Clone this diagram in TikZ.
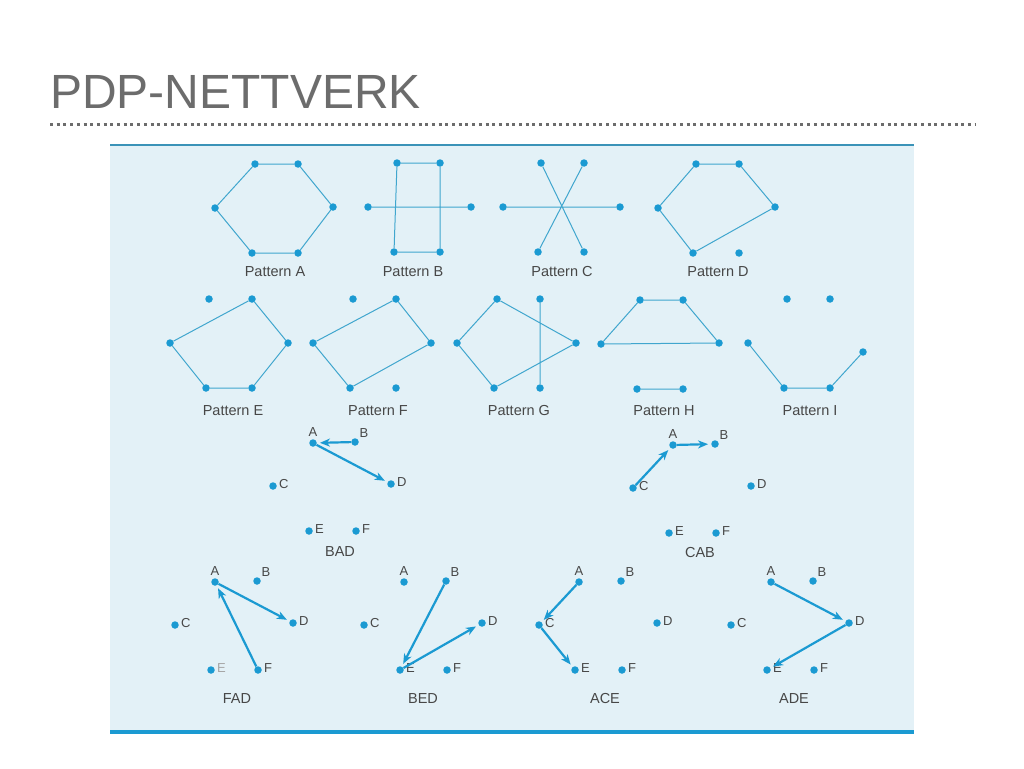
\documentclass[tikz,border=0pt]{standalone}
\usepackage{fontspec}
\setmainfont{Liberation Sans}
\usetikzlibrary{arrows.meta}
\usetikzlibrary{positioning}

\definecolor{panelbg}{HTML}{E3F1F7}
\definecolor{dotblue}{HTML}{1B9AD2}
\definecolor{lineblue}{HTML}{40A6CE}
\definecolor{rimblue}{HTML}{3B93B8}
\definecolor{titlegray}{HTML}{6C6C6C}
\definecolor{textgray}{HTML}{474747}

\begin{document}
\begin{tikzpicture}[x=1pt, y=-1pt,
    vertex/.style={circle, fill=dotblue, inner sep=0pt, minimum size=7.5pt},
    link/.style={draw=lineblue, line width=1pt},
    jump/.style={draw=dotblue, line width=2.2pt, -{Stealth[length=10pt, width=8pt, inset=3pt]}, shorten >=3pt},
    caption/.style={text=textgray, font=\fontsize{14.5}{17}\selectfont, inner sep=0pt, anchor=base},
    letter/.style={text=textgray, font=\fontsize{13}{15}\selectfont, inner sep=1pt, label distance=1pt}]

      \useasboundingbox (0,0) rectangle (1024,768);
      \fill[white] (0,0) rectangle (1024,768);

      % Title and dotted rule
      \node[anchor=base west, inner sep=0pt, text=titlegray, font=\fontsize{48}{56}\selectfont] (title) at (50,108) {PDP-NETTVERK};
      \coordinate (rulel) at (50,124);
      \coordinate (ruler) at (975,124);
      \draw[titlegray, line width=3pt, dash pattern=on 3pt off 3.7pt] (rulel) -- (ruler);

      % Light blue panel
      \fill[panelbg] (110,145) rectangle (914,732);
      \draw[rimblue, line width=1.8pt] (110,145) -- (914,145);
      \draw[dotblue, line width=3.5pt] (110,732) -- (914,732);

      % Patterns: name/top left dot/left dot dx/right dot dx,dy/caption point/letter
      \foreach \p/\x/\y/\cx/\dx/\dy/\tx/\ty/\txt in {pa/255/164/-40/78/43/275/276/A,
          pb/397/163/-29/74/44/413/276/B, pc/541/163/-38/79/44/562/276/C,
          pd/696/164/-38/79/43/718/276/D, pe/209/299/-39/79/44/233/415/E,
          pf/353/299/-40/78/44/378/415/F, pg/497/299/-40/79/44/519/415/G,
          ph/640/300/-39/79/43/664/415/H, pi/787/299/-39/76/53/810/415/I} {
        \node[vertex] (\p A) at (\x,\y) {};
        \node[vertex] (\p B) at (\x+43,\y) {};
        \node[vertex] (\p C) at (\x+\cx,\y+44) {};
        \node[vertex] (\p D) at (\x+\dx,\y+\dy) {};
        \node[vertex] (\p E) at (\x-3,\y+89) {};
        \node[vertex] (\p F) at (\x+43,\y+89) {};
        \node[caption] (\p cap) at (\tx,\ty) {Pattern \txt};
      }

      % Pattern edges
      \draw[link] (paA) -- (paB) -- (paD) -- (paF) -- (paE) -- (paC) -- (paA);
      \draw[link] (pbA) -- (pbB) -- (pbF) -- (pbE) -- (pbA) (pbC) -- (pbD);
      \draw[link] (pcA) -- (pcF) (pcB) -- (pcE) (pcC) -- (pcD);
      \draw[link] (pdA) -- (pdB) -- (pdD) -- (pdE) -- (pdC) -- (pdA);
      \draw[link] (peB) -- (peC) -- (peE) -- (peF) -- (peD) -- (peB);
      \draw[link] (pfB) -- (pfC) -- (pfE) -- (pfD) -- (pfB);
      \draw[link] (pgA) -- (pgC) -- (pgE) -- (pgD) -- (pgA) (pgB) -- (pgF);
      \draw[link] (phA) -- (phB) -- (phD) -- (phC) -- (phA) (phE) -- (phF);
      \draw[link] (piC) -- (piE) -- (piF) -- (piD);

      % Lettered sequences: name/dot A/caption point/caption/colour of E
      \foreach \p/\x/\y/\tx/\ty/\txt/\ec in {bad/313/443/340/556/BAD/textgray,
          cab/673/445/700/557/CAB/textgray, fad/215/582/237/703/FAD/gray!70,
          bed/404/582/423/703/BED/textgray, ace/579/582/605/703/ACE/textgray,
          ade/771/582/794/703/ADE/textgray} {
        \node[vertex, label={[letter]above:A}] (\p A) at (\x,\y) {};
        \node[vertex, label={[letter]above right:B}] (\p B) at (\x+42,\y-1) {};
        \node[vertex, label={[letter, yshift=1.5pt]right:C}] (\p C) at (\x-40,\y+43) {};
        \node[vertex, label={[letter, yshift=1.5pt]right:D}] (\p D) at (\x+78,\y+41) {};
        \node[vertex, label={[letter, yshift=2pt, text=\ec]right:E}] (\p E) at (\x-4,\y+88) {};
        \node[vertex, label={[letter, yshift=1.5pt]right:F}] (\p F) at (\x+43,\y+88) {};
        \node[caption] (\p cap) at (\tx,\ty) {\txt};
      }

      % Moves
      \draw[jump] (badB) -- (badA);
      \draw[jump] (badA) -- (badD);
      \draw[jump] (cabC) -- (cabA);
      \draw[jump] (cabA) -- (cabB);
      \draw[jump] (fadF) -- (fadA);
      \draw[jump] (fadA) -- (fadD);
      \draw[jump] (bedB) -- (bedE);
      \draw[jump] (bedE) -- (bedD);
      \draw[jump] (aceA) -- (aceC);
      \draw[jump] (aceC) -- (aceE);
      \draw[jump] (adeA) -- (adeD);
      \draw[jump] (adeD) -- (adeE);

    \end{tikzpicture}
\end{document}
